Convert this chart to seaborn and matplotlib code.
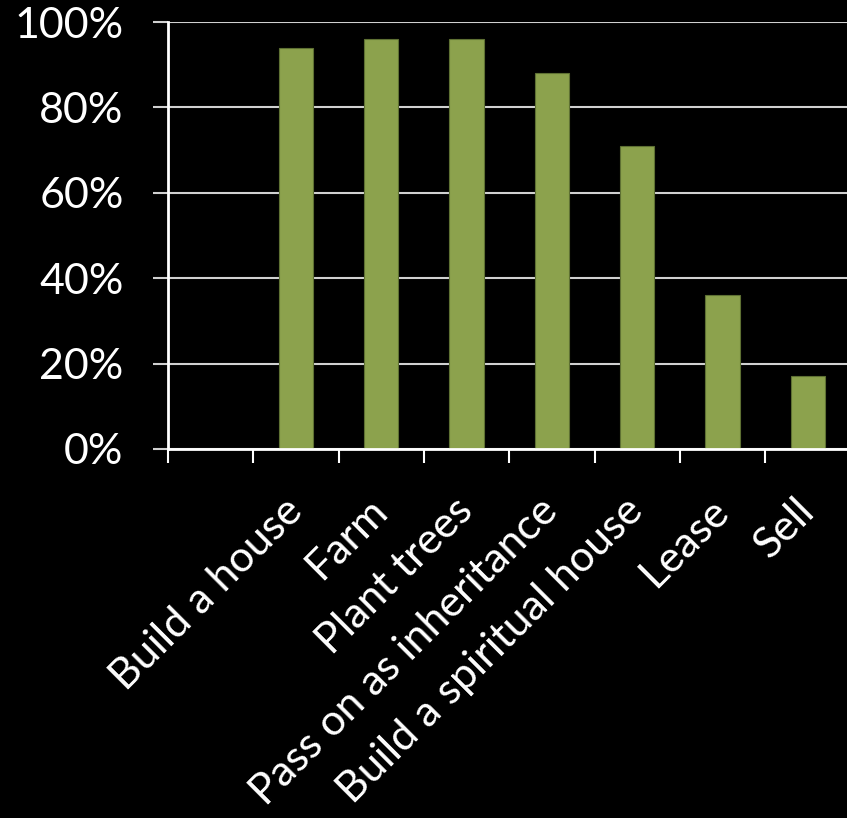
import pandas as pd
import matplotlib
matplotlib.use('Agg')
import matplotlib.pyplot as plt
import seaborn as sns

# 토지 사용 의향 (비율 %)
categories = ['', 'Build a house', 'Farm', 'Plant trees', 'Pass on as inheritance',
              'Build a spiritual house', 'Lease', 'Sell']
values = [0, 94, 96, 96, 88, 71, 36, 17]
y_ticks = [0, 20, 40, 60, 80, 100]
y_labels = ['0%', '20%', '40%', '60%', '80%', '100%']

df = pd.DataFrame({'category': categories, 'value': values})

sns.set_style('dark')
plt.rcParams['font.family'] = ['Lato', 'DejaVu Sans']

fig = plt.figure(figsize=(8.47, 8.18), dpi=100, facecolor='black')
ax = fig.add_axes([168 / 847, 1 - 449 / 818, 682.4 / 847, 427 / 818])
ax.set_facecolor('black')

sns.barplot(data=df, x='category', y='value', color='#8CA24D', width=0.4,
            saturation=1, edgecolor='#5E7033', linewidth=0.8, ax=ax, zorder=3)

ax.set_xlim(-0.5, len(categories) - 0.5)
ax.set_ylim(0, 100)
ax.set_xlabel('')
ax.set_ylabel('')

# 세로축 눈금과 격자선
ax.set_yticks(y_ticks, y_labels)
ax.grid(False)
ax.yaxis.grid(True, color='#D0D0D0', linewidth=1.5, zorder=1)
ax.tick_params(axis='y', colors='#D0D0D0', labelcolor='white', labelsize=31,
               length=11, width=1.5, direction='out', left=True, pad=21)

# 가로축: 경계에 눈금, 가운데에 라벨
ax.set_xticks(range(len(categories)), categories, rotation=45, ha='right',
              va='center', rotation_mode='anchor')
ax.set_xticks([i - 0.5 for i in range(len(categories) + 1)], minor=True)
ax.tick_params(axis='x', which='major', length=0, pad=40, labelsize=31, labelcolor='white')
ax.tick_params(axis='x', which='minor', length=10, width=1.5, color='white', bottom=True)

for side in ['top', 'right']:
    ax.spines[side].set_visible(False)
for side in ['left', 'bottom']:
    ax.spines[side].set_visible(True)
    ax.spines[side].set_color('white')
    ax.spines[side].set_linewidth(2)
ax.spines['bottom'].set_zorder(4)

fig.savefig('out.png', dpi=100, facecolor='black')
